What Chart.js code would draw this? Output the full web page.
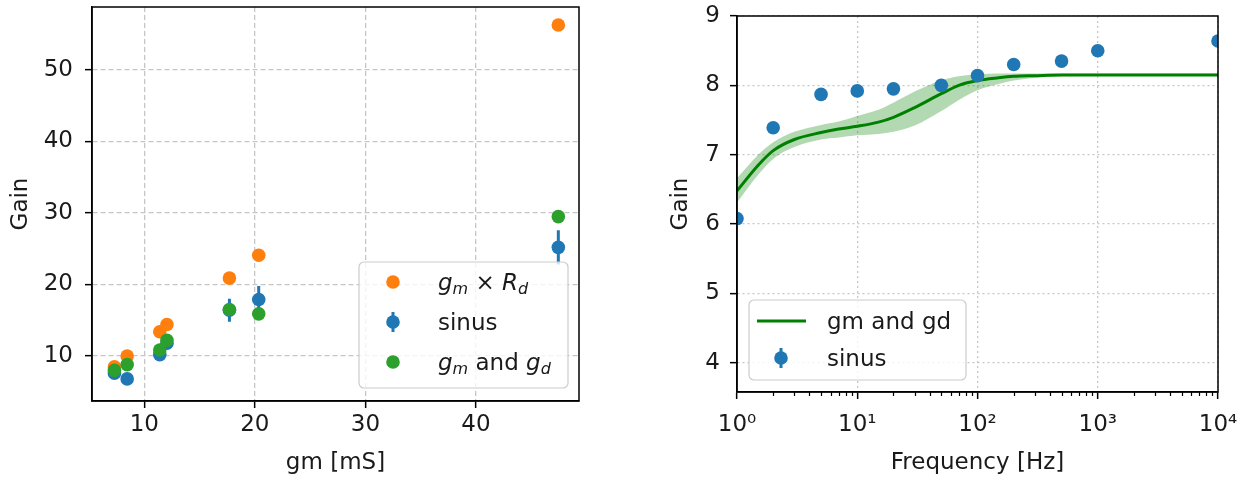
<!DOCTYPE html>
<html>
<head>
<meta charset="utf-8">
<script src="https://cdn.jsdelivr.net/npm/chart.js@4.4.1/dist/chart.umd.min.js"></script>
<style>
  html, body { margin: 0; padding: 0; background: #fff; }
  #wrap { position: relative; width: 1249px; height: 479px; }
  canvas { position: absolute; top: 0; }
  #gainGm { left: 0; }
  #gainFreq { left: 620px; }
</style>
</head>
<body>
<div id="wrap">
  <canvas id="gainGm" width="620" height="479"></canvas>
  <canvas id="gainFreq" width="629" height="479"></canvas>
</div>
<script>
// left plot: gain against gm
const gm = [7.3, 8.45, 11.4, 12.05, 17.7, 20.35, 47.45];
const gainGmRd = [8.5, 10.0, 13.4, 14.4, 20.9, 24.1, 56.3];
const gainSinus = [7.6, 6.8, 10.2, 11.8, 16.4, 17.9, 25.2];
const errSinus = [0.4, 0.5, 0.4, 0.5, 1.6, 1.9, 2.4];
const gainGmGd = [8.0, 8.8, 10.85, 12.2, 16.5, 15.9, 29.5];
const gmTicks = [10, 20, 30, 40];
const gainTicks = [10, 20, 30, 40, 50];

// right plot: gain against frequency
const freq = [1, 2, 5, 10, 20, 50, 100, 200, 500, 1000, 10000];
const gainFreq = [6.08, 7.39, 7.87, 7.92, 7.95, 8.00, 8.14, 8.30, 8.35, 8.50, 8.64];
const freqModel = [1, 1.5, 2, 3, 5, 7, 10, 15, 20, 30, 50, 70, 100, 150, 200, 300, 500, 1000, 3000, 10000];
const gainModel = [6.48, 6.85, 7.06, 7.22, 7.32, 7.37, 7.41, 7.47, 7.54, 7.68, 7.88, 8.00, 8.07, 8.11, 8.13, 8.14, 8.15, 8.15, 8.15, 8.15];
const gainModelLow = [6.31, 6.71, 6.94, 7.11, 7.22, 7.25, 7.28, 7.30, 7.33, 7.42, 7.63, 7.79, 7.93, 8.02, 8.07, 8.11, 8.13, 8.14, 8.14, 8.14];
const gainModelHigh = [6.66, 7.00, 7.18, 7.33, 7.43, 7.48, 7.56, 7.65, 7.75, 7.91, 8.07, 8.13, 8.16, 8.17, 8.17, 8.17, 8.17, 8.17, 8.17, 8.17];
const freqTicks = [1, 10, 100, 1000, 10000];
const gainFreqTicks = [4, 5, 6, 7, 8, 9];

const BLUE = '#1f77b4', ORANGE = '#ff7f0e', GREEN = '#2ca02c', LINE_GREEN = '#008000';
const TEXT = '#1a1a1a', GRID = '#c6c6c6';
const FAMILY = '"DejaVu Sans"';
const FONT = { family: 'DejaVu Sans', size: 23 };
const SUP = { '0': '\u2070', '1': '\u00b9', '2': '\u00b2', '3': '\u00b3', '4': '\u2074' };

const pts = (xs, ys) => xs.map((x, i) => ({ x: x, y: ys[i] }));

// error bars as short line segments separated by gaps
const errSegments = [];
gm.forEach((x, i) => {
    errSegments.push({ x: x, y: gainSinus[i] - errSinus[i] });
    errSegments.push({ x: x, y: gainSinus[i] + errSinus[i] });
    errSegments.push({ x: x, y: null });
});

function fixedTicks(values) {
    return scale => { scale.ticks = values.map(v => ({ value: v })); };
}
function fitAxis(size) {
    return scale => {
        if (scale.isHorizontal()) scale.height = size; else scale.width = size;
        scale.paddingLeft = scale.paddingRight = scale.paddingTop = scale.paddingBottom = 0;
    };
}
function axis(extra) {
    return Object.assign({
        grid: { color: GRID, lineWidth: 1.3, tickColor: '#000', tickLength: 7, tickWidth: 1.5 },
    }, extra);
}

function drawRuns(ctx, runs, x, baseline) {
    runs.forEach(r => {
        ctx.font = (r.it ? 'italic ' : '') + (r.sub ? 16 : 23) + 'px ' + FAMILY;
        ctx.fillText(r.t, x, baseline + (r.sub ? 4 : 0));
        x += ctx.measureText(r.t).width;
    });
}
function legendBox(ctx, x, y, w, h) {
    ctx.beginPath();
    ctx.roundRect(x, y, w, h, 5);
    ctx.fillStyle = 'rgba(255,255,255,0.8)';
    ctx.fill();
    ctx.strokeStyle = '#cccccc';
    ctx.lineWidth = 1.2;
    ctx.stroke();
}
function dot(ctx, x, y, color) {
    ctx.beginPath();
    ctx.arc(x, y, 6.8, 0, Math.PI * 2);
    ctx.fillStyle = color;
    ctx.fill();
}
function frame(ctx, ca) {
    ctx.strokeStyle = '#000';
    ctx.lineWidth = 1.5;
    ctx.strokeRect(ca.left, ca.top, ca.right - ca.left, ca.bottom - ca.top);
}

const leftDecor = {
    id: 'leftDecor',
    afterDraw(chart) {
        const ctx = chart.ctx, ca = chart.chartArea;
        ctx.save();
        frame(ctx, ca);
        const bx = ca.right - 11 - 209, by = ca.bottom - 13 - 126;
        legendBox(ctx, bx, by, 209, 126);
        const mx = bx + 34, tx = bx + 79;
        dot(ctx, mx, by + 20, ORANGE);
        ctx.strokeStyle = BLUE; ctx.lineWidth = 3;
        ctx.beginPath(); ctx.moveTo(mx, by + 50); ctx.lineTo(mx, by + 70); ctx.stroke();
        dot(ctx, mx, by + 60, BLUE);
        dot(ctx, mx, by + 100, GREEN);
        ctx.fillStyle = TEXT;
        ctx.textBaseline = 'alphabetic';
        ctx.textAlign = 'left';
        drawRuns(ctx, [{ t: 'g', it: 1 }, { t: 'm', it: 1, sub: 1 }, { t: ' \u00d7 ' }, { t: 'R', it: 1 }, { t: 'd', it: 1, sub: 1 }], tx, by + 28);
        drawRuns(ctx, [{ t: 'sinus' }], tx, by + 68);
        drawRuns(ctx, [{ t: 'g', it: 1 }, { t: 'm', it: 1, sub: 1 }, { t: ' and ' }, { t: 'g', it: 1 }, { t: 'd', it: 1, sub: 1 }], tx, by + 108);
        ctx.restore();
    }
};

const rightDecor = {
    id: 'rightDecor',
    afterDraw(chart) {
        const ctx = chart.ctx, ca = chart.chartArea, xs = chart.scales.x;
        ctx.save();
        // minor ticks on the log axis
        ctx.strokeStyle = '#000';
        ctx.lineWidth = 1.2;
        for (let d = 1; d < 10000; d *= 10) {
            for (let m = 2; m < 10; m++) {
                const px = Math.round(xs.getPixelForValue(m * d)) + 0.5;
                ctx.beginPath(); ctx.moveTo(px, ca.bottom); ctx.lineTo(px, ca.bottom + 4); ctx.stroke();
            }
        }
        frame(ctx, ca);
        const bx = ca.left + 12, by = ca.bottom - 12 - 80;
        legendBox(ctx, bx, by, 217, 80);
        ctx.strokeStyle = LINE_GREEN; ctx.lineWidth = 3;
        ctx.beginPath(); ctx.moveTo(bx + 8, by + 21); ctx.lineTo(bx + 57, by + 21); ctx.stroke();
        ctx.strokeStyle = BLUE;
        ctx.beginPath(); ctx.moveTo(bx + 32, by + 48); ctx.lineTo(bx + 32, by + 68); ctx.stroke();
        dot(ctx, bx + 32, by + 58, BLUE);
        ctx.fillStyle = TEXT;
        ctx.textBaseline = 'alphabetic';
        ctx.textAlign = 'left';
        drawRuns(ctx, [{ t: 'gm and gd' }], bx + 78, by + 29);
        drawRuns(ctx, [{ t: 'sinus' }], bx + 78, by + 66);
        ctx.restore();
    }
};

const common = {
    responsive: false,
    devicePixelRatio: 1,
    animation: false,
    events: [],
    plugins: { legend: { display: false }, tooltip: { enabled: false } },
};

new Chart(document.getElementById('gainGm'), {
    type: 'line',
    data: {
        datasets: [
            { label: 'gm and gd', data: pts(gm, gainGmGd), showLine: false, pointRadius: 6.8, pointBorderWidth: 0, backgroundColor: GREEN, borderColor: GREEN, order: 1, clip: 0 },
            { label: 'sinus', data: pts(gm, gainSinus), showLine: false, pointRadius: 6.8, pointBorderWidth: 0, backgroundColor: BLUE, borderColor: BLUE, order: 2, clip: 0 },
            { label: 'sinus error', data: errSegments, pointRadius: 0, borderColor: BLUE, borderWidth: 3, spanGaps: false, order: 3, clip: 0 },
            { label: 'gm x Rd', data: pts(gm, gainGmRd), showLine: false, pointRadius: 6.8, pointBorderWidth: 0, backgroundColor: ORANGE, borderColor: ORANGE, order: 4, clip: 0 },
        ]
    },
    options: Object.assign({}, common, {
        layout: { autoPadding: false, padding: { left: 0, top: 7, right: 41, bottom: 0 } },
        scales: {
            x: axis({
                type: 'linear', min: 5.27, max: 49.32,
                afterBuildTicks: fixedTicks(gmTicks),
                afterFit: fitAxis(78),
                border: { display: true, color: '#000', width: 1.5, dash: [5, 3] },
                ticks: { color: TEXT, font: FONT, autoSkip: false, maxRotation: 0, padding: 3.5, callback: v => String(v) },
                title: { display: true, text: 'gm [mS]', color: TEXT, font: FONT, padding: { top: 0, bottom: 2.6 } },
            }),
            y: axis({
                type: 'linear', min: 3.71, max: 58.81,
                afterBuildTicks: fixedTicks(gainTicks),
                afterFit: fitAxis(92),
                border: { display: true, color: '#000', width: 1.5, dash: [5, 3] },
                ticks: { color: TEXT, font: FONT, autoSkip: false, padding: 12, callback: v => String(v) },
                title: { display: true, text: 'Gain', color: TEXT, font: FONT, padding: { top: 7.2, bottom: 0 } },
            }),
        }
    }),
    plugins: [leftDecor]
});

new Chart(document.getElementById('gainFreq'), {
    type: 'line',
    data: {
        datasets: [
            { label: 'sinus', data: pts(freq, gainFreq), showLine: false, pointRadius: 6.8, pointBorderWidth: 0, backgroundColor: BLUE, borderColor: BLUE, order: 1, clip: 0 },
            { label: 'gm and gd', data: pts(freqModel, gainModel), pointRadius: 0, borderColor: LINE_GREEN, borderWidth: 3, cubicInterpolationMode: 'monotone', order: 2, clip: 0 },
            { label: 'band low', data: pts(freqModel, gainModelLow), pointRadius: 0, borderColor: 'transparent', borderWidth: 1, cubicInterpolationMode: 'monotone', fill: false, order: 4, clip: 0 },
            { label: 'band high', data: pts(freqModel, gainModelHigh), pointRadius: 0, borderColor: 'transparent', borderWidth: 1, cubicInterpolationMode: 'monotone', fill: '-1', backgroundColor: 'rgba(0,128,0,0.3)', order: 3, clip: 0 },
        ]
    },
    options: Object.assign({}, common, {
        layout: { autoPadding: false, padding: { left: 0, top: 16, right: 31, bottom: 0 } },
        scales: {
            x: axis({
                type: 'logarithmic', min: 1, max: 10000,
                afterBuildTicks: fixedTicks(freqTicks),
                afterFit: fitAxis(87),
                border: { display: true, color: '#000', width: 1.5, dash: [2, 3] },
                ticks: {
                    color: TEXT, font: FONT, autoSkip: false, maxRotation: 0, padding: 12.5,
                    callback: v => '10' + SUP[String(Math.round(Math.log10(v)))]
                },
                title: { display: true, text: 'Frequency [Hz]', color: TEXT, font: FONT, padding: { top: 0, bottom: 2.6 } },
            }),
            y: axis({
                type: 'linear', min: 3.58, max: 9,
                afterBuildTicks: fixedTicks(gainFreqTicks),
                afterFit: fitAxis(117),
                border: { display: true, color: '#000', width: 1.5, dash: [2, 3] },
                ticks: { color: TEXT, font: FONT, autoSkip: false, padding: 10, callback: v => String(v) },
                title: { display: true, text: 'Gain', color: TEXT, font: FONT, padding: { top: 47.2, bottom: 0 } },
            }),
        }
    }),
    plugins: [rightDecor]
});
</script>
</body>
</html>
